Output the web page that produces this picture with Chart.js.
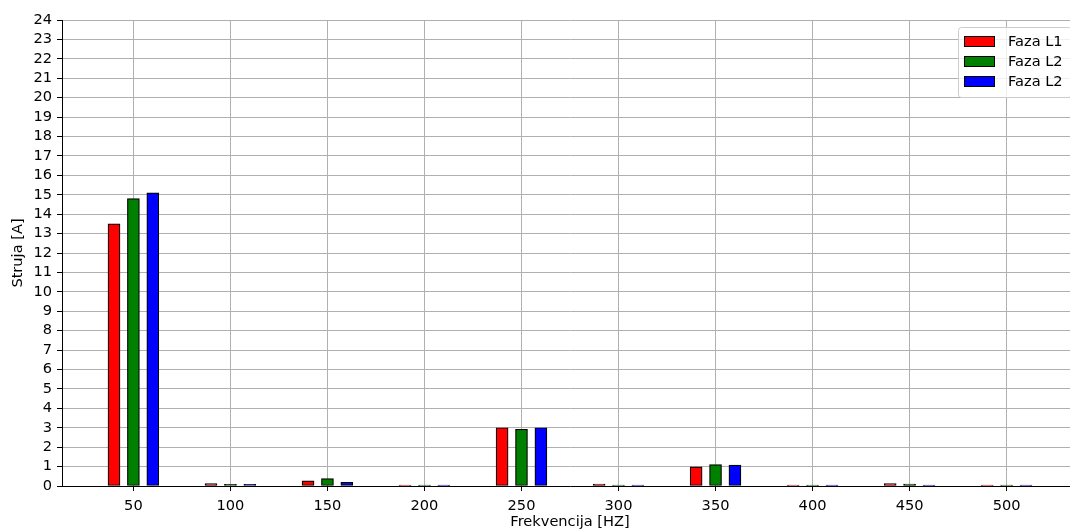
<!DOCTYPE html>
<html>
<head>
<meta charset="utf-8">
<script src="https://cdn.jsdelivr.net/npm/chart.js@4"></script>
<style>
html,body{margin:0;padding:0;background:#fff;overflow:hidden;}
#wrap{position:absolute;left:0;top:0;width:1090px;height:531px;}
</style>
</head>
<body>
<div id="wrap"><canvas id="c" width="1090" height="531"></canvas></div>
<script>
const frequencies = [50, 100, 150, 200, 250, 300, 350, 400, 450, 500];
const seriesLabels = ['Faza L1', 'Faza L2', 'Faza L2'];
const faseL1 = [13.5, 0.13, 0.27, 0.05, 3.0, 0.1, 0.99, 0.05, 0.12, 0.05];
const faseL2 = [14.8, 0.08, 0.38, 0.05, 2.92, 0.05, 1.1, 0.05, 0.1, 0.05];
const faseL3 = [15.1, 0.08, 0.19, 0.05, 3.0, 0.05, 1.08, 0.05, 0.05, 0.05];
const yTicks = [0,1,2,3,4,5,6,7,8,9,10,11,12,13,14,15,16,17,18,19,20,21,22,23,24];
const phaseOffsets = [-10, 0, 10];
const colors = ['#ff0000', '#008000', '#0000ff'];

const FONT = "'DejaVu Sans', sans-serif";
const FS = 14.6;
const seriesValues = [faseL1, faseL2, faseL3];
const datasets = seriesValues.map((vals, i) => ({
  label: seriesLabels[i],
  data: frequencies.map((f, j) => ({x: f + phaseOffsets[i], y: vals[j]})),
  backgroundColor: colors[i],
  borderColor: '#000000',
  borderWidth: 1.2,
  borderSkipped: false,
  barThickness: 12,
  grouped: false
}));

const legendPlugin = {
  id: 'mplLegend',
  afterDraw(chart) {
    const ctx = chart.ctx;
    const x0 = 958, y0 = 27.5, w = 113, h = 70;
    ctx.save();
    ctx.fillStyle = 'rgba(255,255,255,0.8)';
    ctx.strokeStyle = '#cccccc';
    ctx.lineWidth = 1;
    ctx.beginPath();
    if (ctx.roundRect) ctx.roundRect(x0 + 0.5, y0, w, h, 3); else ctx.rect(x0 + 0.5, y0, w, h);
    ctx.fill();
    ctx.stroke();
    chart.data.datasets.forEach((ds, i) => {
      const cy = 41.5 + i * 20;
      ctx.fillStyle = ds.backgroundColor;
      ctx.fillRect(964.5, cy - 5, 30, 10);
      ctx.strokeStyle = '#000';
      ctx.lineWidth = 1;
      ctx.strokeRect(964.5, cy - 5, 30, 10);
      ctx.fillStyle = '#000';
      ctx.font = FS + 'px ' + FONT;
      ctx.textBaseline = 'middle';
      ctx.textAlign = 'left';
      ctx.fillText(ds.label, 1008, cy + 0.5);
    });
    ctx.restore();
  }
};

new Chart(document.getElementById('c'), {
  type: 'bar',
  data: { datasets },
  options: {
    responsive: false,
    animation: false,
    devicePixelRatio: 1,
    layout: { padding: { left: 0, right: 12, top: 20, bottom: 0 } },
    plugins: { legend: { display: false }, tooltip: { enabled: false } },
    scales: {
      x: {
        type: 'linear',
        min: 13.2,
        max: 536.8,
        offset: false,
        afterBuildTicks: (s) => { s.ticks = frequencies.map(v => ({value: v})); },
        afterFit: (s) => { s.height = 45; },
        ticks: { color: '#000', font: { family: FONT, size: FS }, padding: 6, maxRotation: 0, autoSkip: false },
        grid: { offset: false, color: '#b0b0b0', lineWidth: 1, tickColor: '#000', tickLength: 5, drawTicks: true },
        border: { color: '#000', width: 1 },
        title: { display: true, text: 'Frekvencija [HZ]', color: '#000', font: { family: FONT, size: FS }, padding: { top: 0, bottom: 0 } }
      },
      y: {
        min: 0,
        max: 24,
        afterBuildTicks: (s) => { s.ticks = yTicks.map(v => ({value: v})); },
        afterFit: (s) => { s.width = 62; },
        ticks: { color: '#000', font: { family: FONT, size: FS }, padding: 5, autoSkip: false },
        grid: { color: '#b0b0b0', lineWidth: 1, tickColor: '#000', tickLength: 5, drawTicks: true },
        border: { color: '#000', width: 1 },
        title: { display: true, text: 'Struja [A]', color: '#000', font: { family: FONT, size: FS }, padding: { top: 9, bottom: 0 } }
      }
    }
  },
  plugins: [legendPlugin]
});
</script>
</body>
</html>
